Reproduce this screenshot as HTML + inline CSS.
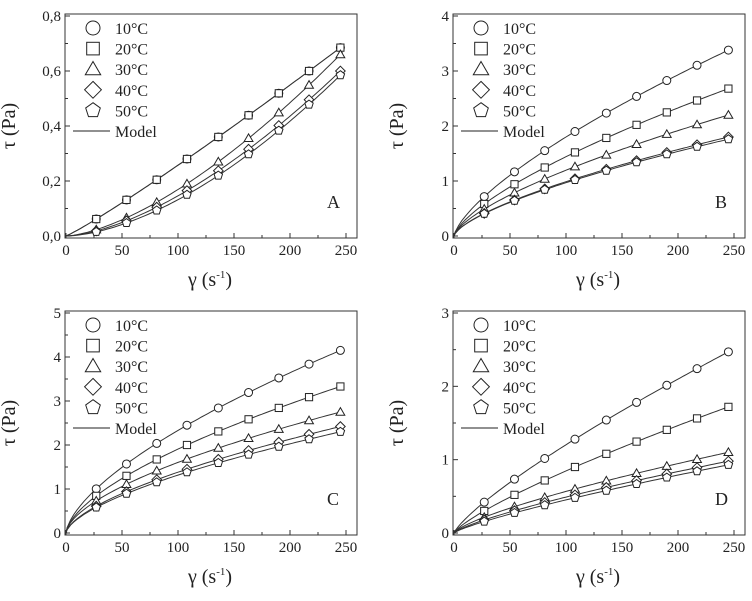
<!DOCTYPE html><html><head><meta charset="utf-8"><style>body{margin:0;background:#fff}svg{display:block}text{font-family:"Liberation Serif",serif;fill:#222}</style></head><body>
<svg id="s" width="752" height="601" viewBox="0 0 752 601"></svg>
<script>
const S=document.getElementById('s');let h='';
const G=[27,54,81,108,136,163,190,217,245];
const panels=[
 {L:65,T:14,B:238,max:0.8,yt:[0,0.2,0.4,0.6,0.8],fmt:v=>v.toFixed(1).replace('.',','),lab:'A',
  c:[[0.28,0.685],[0.28,0.685],[0.19,0.66],[0.165,0.6],[0.15,0.585]]},
 {L:453,T:14,B:238,max:4,yt:[0,1,2,3,4],fmt:v=>v,lab:'B',
  c:[[1.9,3.38],[1.52,2.68],[1.26,2.2],[1.04,1.8],[1.02,1.76]]},
 {L:65,T:311,B:535,max:5,yt:[0,1,2,3,4,5],fmt:v=>v,lab:'C',
  c:[[2.45,4.15],[2.0,3.33],[1.68,2.75],[1.45,2.42],[1.38,2.3]]},
 {L:453,T:311,B:535,max:3,yt:[0,1,2,3],fmt:v=>v,lab:'D',
  c:[[1.28,2.47],[0.9,1.72],[0.6,1.1],[0.52,0.98],[0.48,0.93]]}];
function mk(t,x,y,r){
 if(t==0)return `<circle cx="${x}" cy="${y}" r="${r}" fill="#fff" stroke="#222"/>`;
 if(t==1)return `<rect x="${x-r*.9}" y="${y-r*.9}" width="${r*1.8}" height="${r*1.8}" fill="#fff" stroke="#222"/>`;
 if(t==2)return `<polygon points="${x},${y-r*1.1} ${x+r*1.1},${y+r*.8} ${x-r*1.1},${y+r*.8}" fill="#fff" stroke="#222"/>`;
 if(t==3)return `<polygon points="${x},${y-r*1.2} ${x+r*1.2},${y} ${x},${y+r*1.2} ${x-r*1.2},${y}" fill="#fff" stroke="#222"/>`;
 let p=[];for(let i=0;i<5;i++){let a=-Math.PI/2+i*2*Math.PI/5;p.push((x+r*1.1*Math.cos(a)).toFixed(1)+','+(y+r*1.1*Math.sin(a)).toFixed(1));}
 return `<polygon points="${p.join(' ')}" fill="#fff" stroke="#222"/>`;}
panels.forEach(P=>{
 const X=g=>P.L+1+g*280/250,Y=v=>P.B-2-v/P.max*(P.B-3-P.T-1);
 h+=`<rect x="${P.L}" y="${P.T}" width="292" height="${P.B-P.T}" fill="none" stroke="#333"/>`;
 for(let g=0;g<=250;g+=25){let x=X(g),l=g%50?3:5;h+=`<line x1="${x}" y1="${P.B}" x2="${x}" y2="${P.B-l}" stroke="#333"/>`;if(g%50==0)h+=`<text x="${x}" y="${P.B+17}" font-size="15" text-anchor="middle">${g}</text>`;}
 P.yt.forEach((v,i)=>{let y=Y(v);h+=`<line x1="${P.L}" y1="${y}" x2="${P.L+5}" y2="${y}" stroke="#333"/><text x="${P.L-4}" y="${y+5}" font-size="15" text-anchor="end">${P.fmt(v)}</text>`;
  if(i<P.yt.length-1){let ym=Y((v+P.yt[i+1])/2);h+=`<line x1="${P.L}" y1="${ym}" x2="${P.L+3}" y2="${ym}" stroke="#333"/>`;}});
 const my=(P.T+P.B)/2;
 h+=`<text transform="translate(${P.L-50},${my}) rotate(-90)" font-size="20" text-anchor="middle">τ (Pa)</text>`;
 h+=`<text x="${P.L+145}" y="${P.B+48}" font-size="20" text-anchor="middle">γ (s<tspan font-size="11" dy="-8">-1</tspan><tspan dy="8">)</tspan></text>`;
 h+=`<text x="${P.L+262}" y="${P.B-30}" font-size="18">${P.lab}</text>`;
 P.c.forEach((c,t)=>{const n=Math.log(c[1]/c[0])/Math.log(245/108),k=c[1]/Math.pow(245,n);
  let pts=[];for(let g=1;g<=247;g+=3)pts.push(X(g).toFixed(1)+','+Y(k*Math.pow(g,n)).toFixed(1));
  h+=`<polyline points="${X(0)},${Y(0)} ${pts.join(' ')}" fill="none" stroke="#333" stroke-width="1"/>`;
  G.forEach(g=>h+=mk(t,X(g),Y(k*Math.pow(g,n)),4));});
 ['10°C','20°C','30°C','40°C','50°C'].forEach((s,i)=>{let y=P.T+14+i*20.6;h+=mk(i,P.L+28,y,7)+`<text x="${P.L+50}" y="${y+6}" font-size="16">${s}</text>`;});
 let y=P.T+117;h+=`<line x1="${P.L+8}" y1="${y}" x2="${P.L+45}" y2="${y}" stroke="#222"/><text x="${P.L+50}" y="${y+6}" font-size="16">Model</text>`;
});
S.innerHTML=h;
</script></body></html>
